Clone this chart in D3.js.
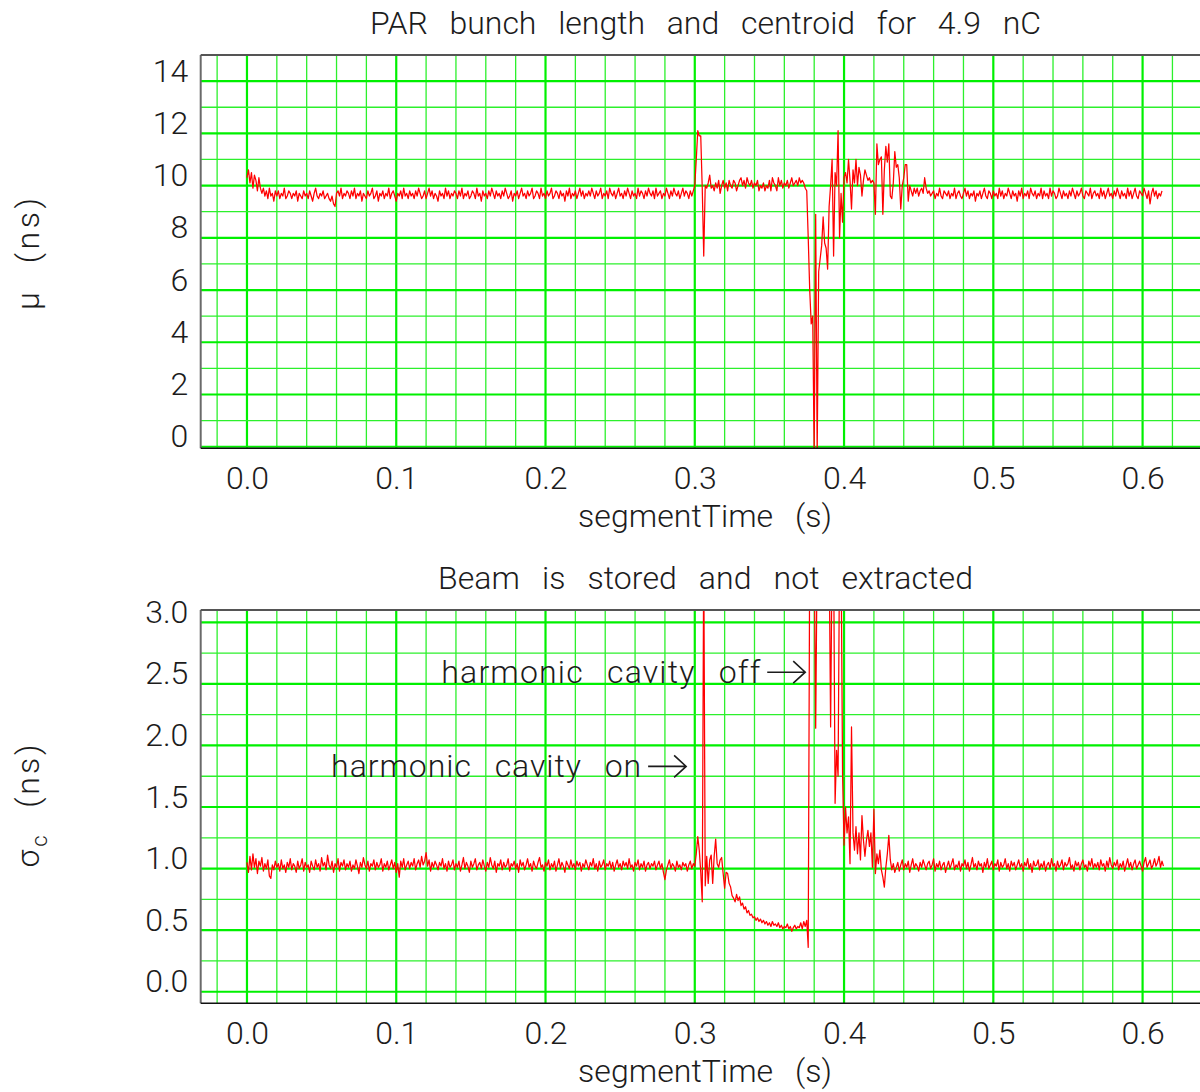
<!DOCTYPE html>
<html>
<head>
<meta charset="utf-8">
<script src="https://cdn.jsdelivr.net/npm/d3@7"></script>
<style>
  body { margin: 0; background: #fff; }
  svg text { font-family: Roboto, "Open Sans", "DejaVu Sans", sans-serif; font-weight: 300; font-size: 32px; fill: #1c1c1c; }
  svg text.spaced { word-spacing: 14px; }
</style>
</head>
<body>
<svg id="chart" width="1200" height="1092"></svg>
<script>
// Sampling interval of both traces (seconds)
const sampleStep = 0.001;

// Tick labels
const timeTicks = [0.0, 0.1, 0.2, 0.3, 0.4, 0.5, 0.6];
const muTicks = [0, 2, 4, 6, 8, 10, 12, 14];
const sigmaTicks = [0.0, 0.5, 1.0, 1.5, 2.0, 2.5, 3.0];

// Bunch centroid mu (ns), one value per millisecond from t = 0
const muValues = [
  10.3,10.6,10.1,10.5,9.9,10.4,10.2,9.8,10.3,9.9,
  9.7,9.9,9.6,9.8,9.5,9.9,9.6,9.7,9.4,9.8,
  9.6,9.8,9.5,9.7,9.6,9.9,9.5,9.6,9.8,9.7,
  9.5,9.7,9.6,9.8,9.4,9.7,9.6,9.5,9.8,9.6,
  9.7,9.5,9.8,9.6,9.4,9.7,9.9,9.6,9.5,9.7,
  9.6,9.8,9.5,9.6,9.7,9.5,9.4,9.6,9.3,9.2,
  9.7,9.8,9.6,9.9,9.5,9.7,9.6,9.8,9.7,9.5,
  9.8,9.6,9.9,9.5,9.7,9.6,9.8,9.4,9.7,9.6,
  9.5,9.8,9.6,9.7,9.9,9.5,9.6,9.8,9.4,9.7,
  9.6,9.8,9.5,9.7,9.6,9.9,9.5,9.7,9.8,9.6,
  // 0.10 s
  9.4,9.7,9.6,9.8,9.5,9.9,9.6,9.7,9.5,9.8,
  9.6,9.7,9.5,9.8,9.6,9.9,9.7,9.5,9.6,9.8,
  9.5,9.7,9.9,9.6,9.8,9.5,9.7,9.6,9.4,9.8,
  9.6,9.7,9.5,9.9,9.6,9.8,9.5,9.7,9.6,9.8,
  9.7,9.5,9.8,9.6,9.9,9.5,9.7,9.6,9.8,9.5,
  9.6,9.8,9.7,9.5,9.9,9.6,9.7,9.4,9.8,9.6,
  9.7,9.5,9.8,9.6,9.9,9.7,9.5,9.8,9.6,9.7,
  9.5,9.8,9.6,9.9,9.7,9.5,9.6,9.8,9.4,9.7,
  9.6,9.8,9.5,9.7,9.9,9.6,9.7,9.5,9.8,9.6,
  9.7,9.9,9.5,9.6,9.8,9.7,9.5,9.9,9.6,9.7,
  // 0.20 s
  9.5,9.8,9.6,9.7,9.9,9.5,9.6,9.8,9.7,9.5,
  9.8,9.6,9.7,9.4,9.8,9.6,9.9,9.5,9.7,9.6,
  9.8,9.5,9.7,9.9,9.6,9.8,9.5,9.7,9.6,9.8,
  9.6,9.9,9.7,9.5,9.8,9.6,9.7,9.9,9.5,9.7,
  9.6,9.8,9.5,9.9,9.7,9.6,9.8,9.5,9.7,9.9,
  9.6,9.7,9.5,9.8,9.6,9.9,9.7,9.5,9.8,9.6,
  9.7,9.5,9.9,9.6,9.8,9.7,9.5,9.8,9.6,9.9,
  9.7,9.6,9.8,9.5,9.9,9.6,9.7,9.8,9.5,9.7,
  9.6,9.9,9.7,9.5,9.8,9.6,9.9,9.7,9.6,9.8,
  9.5,9.7,9.9,9.6,9.8,9.7,9.5,9.8,9.6,9.8,
  // 0.30 s: harmonic cavity switched on
  10.0,11.0,12.1,11.9,11.9,9.9,7.3,10.0,9.9,10.1,
  10.4,9.9,10.0,9.8,10.1,9.9,10.2,9.7,10.0,10.2,
  9.9,10.1,9.8,10.2,10.0,9.9,10.2,10.1,9.8,10.0,
  10.2,10.3,10.0,10.2,9.9,10.3,10.1,10.0,10.2,9.9,
  10.1,10.0,10.2,9.8,10.0,9.9,10.1,9.8,10.0,9.9,
  10.2,9.8,10.3,10.1,10.0,9.8,10.3,10.0,10.2,9.9,
  10.1,10.0,10.2,9.9,10.1,10.3,10.0,10.1,10.2,10.0,
  10.3,10.1,10.2,10.1,9.9,9.8,8.0,6.0,4.7,5.0,
  -0.3,8.9,-0.3,6.7,7.2,7.7,8.8,7.8,7.6,6.8,
  9.2,10.0,11.0,7.3,10.5,10.0,12.1,8.0,9.7,8.6,
  // 0.40 s
  10.3,10.5,10.1,11.0,10.2,9.1,10.6,10.1,11.0,10.0,
  10.7,10.4,9.6,10.2,10.6,10.4,10.2,10.3,10.1,10.2,
  10.1,8.9,11.6,10.8,11.0,11.1,8.9,10.6,11.5,10.9,
  11.6,9.6,9.5,10.1,11.3,10.7,10.8,10.3,9.1,10.0,
  10.3,10.8,10.8,9.4,10.0,9.8,9.6,9.9,9.7,9.9,
  9.6,9.8,9.9,9.7,10.3,9.9,9.7,9.8,9.6,9.7,
  9.8,9.5,9.7,9.6,9.9,9.6,9.5,9.8,9.7,9.6,
  9.8,9.5,9.7,9.6,9.9,9.5,9.7,9.8,9.6,9.5,
  9.7,9.9,9.6,9.8,9.5,9.7,9.6,9.8,9.4,9.7,
  9.6,9.8,9.5,9.7,9.9,9.6,9.5,9.8,9.7,9.5,
  // 0.50 s
  9.8,9.6,9.7,9.5,9.9,9.6,9.8,9.5,9.7,9.6,
  9.9,9.7,9.5,9.8,9.6,9.7,9.4,9.8,9.6,9.9,
  9.5,9.7,9.6,9.8,9.5,9.9,9.7,9.6,9.8,9.5,
  9.7,9.6,9.9,9.5,9.8,9.6,9.7,9.5,9.9,9.6,
  9.8,9.7,9.5,9.6,9.9,9.7,9.5,9.8,9.6,9.7,
  9.5,9.8,9.6,9.9,9.7,9.5,9.8,9.6,9.7,9.9,
  9.6,9.5,9.8,9.7,9.6,9.9,9.5,9.7,9.8,9.6,
  9.7,9.5,9.9,9.6,9.8,9.5,9.7,9.9,9.6,9.7,
  9.5,9.8,9.6,9.9,9.7,9.5,9.8,9.6,9.7,9.5,
  9.9,9.6,9.8,9.5,9.7,9.9,9.6,9.5,9.8,9.7,
  // 0.60 s
  9.6,9.9,9.7,9.5,9.8,9.3,9.7,9.9,9.6,9.8,
  9.5,9.7,9.6,9.8
];

// Bunch length sigma_c (ns), one value per millisecond from t = 0
const sigmaValues = [
  1.05,0.97,1.10,0.99,1.12,1.01,1.08,0.96,1.06,1.02,
  1.09,0.98,1.04,1.00,1.07,0.94,0.92,1.03,0.99,1.06,
  1.01,1.04,0.98,1.07,1.00,1.03,0.97,1.05,1.01,1.08,
  0.99,1.04,1.02,0.97,1.06,1.00,1.03,1.08,0.98,1.05,
  1.01,1.03,0.97,1.06,1.02,0.99,1.07,1.01,1.04,0.98,
  1.09,1.02,1.05,0.99,1.11,1.03,1.00,1.06,0.97,1.04,
  1.01,1.08,0.98,1.05,1.02,1.07,0.99,1.04,1.01,1.06,
  0.98,1.03,1.00,1.07,1.02,0.96,1.05,1.01,1.09,1.03,
  1.00,1.06,0.98,1.04,1.02,1.07,0.99,1.05,1.01,1.03,
  1.08,0.98,1.04,1.01,1.06,0.99,1.03,1.07,1.00,1.05,
  // 0.10 s
  0.97,1.04,0.93,1.06,1.01,1.08,0.99,1.03,1.06,1.00,
  1.05,1.02,1.08,0.99,1.04,1.07,1.01,1.10,1.03,1.06,
  1.13,1.02,1.07,0.98,1.05,1.01,1.06,1.03,0.99,1.05,
  1.02,1.08,1.00,1.04,0.98,1.06,1.01,1.03,1.07,0.99,
  1.04,1.01,1.06,0.98,1.03,1.09,1.00,1.05,1.02,0.97,
  1.06,1.01,1.04,1.08,0.99,1.03,1.05,1.00,1.07,1.02,
  0.98,1.05,1.01,1.09,1.03,1.00,1.06,0.97,1.04,1.02,
  1.07,0.99,1.05,1.01,1.03,1.08,0.98,1.04,1.02,1.06,
  1.00,1.04,0.97,1.07,1.02,1.05,0.99,1.03,1.08,1.01,
  1.04,0.98,1.06,1.02,1.00,1.05,1.09,1.01,1.03,0.98,
  // 0.20 s
  1.05,1.02,1.07,0.99,1.04,1.01,1.06,0.98,1.03,1.08,
  1.00,1.05,1.02,0.97,1.06,1.03,1.00,1.07,1.01,1.04,
  0.99,1.06,1.02,1.05,0.98,1.04,1.01,1.07,1.03,0.99,
  1.05,1.02,1.08,1.00,1.04,0.98,1.06,1.01,1.03,1.07,
  0.99,1.04,1.02,1.06,1.00,1.05,0.98,1.03,1.07,1.01,
  1.04,0.99,1.06,1.02,1.05,1.00,1.08,1.01,1.03,0.98,
  1.05,1.02,1.07,0.99,1.04,1.01,1.06,0.98,1.03,1.05,
  1.00,1.04,1.02,1.06,0.99,1.03,1.06,1.00,1.04,0.97,
  0.91,0.99,1.03,1.07,1.00,1.04,1.02,0.98,1.06,1.01,
  1.03,0.99,1.05,1.02,1.04,0.98,1.03,1.06,1.00,1.04,
  // 0.30 s: harmonic cavity switched on
  1.02,1.12,1.26,1.15,0.97,0.73,3.6,0.86,1.10,0.88,
  1.07,1.11,0.88,1.10,1.24,1.04,1.01,1.07,1.09,0.96,
  0.84,0.97,0.96,0.88,0.85,0.78,0.76,0.73,0.79,0.74,
  0.77,0.70,0.72,0.67,0.69,0.64,0.66,0.62,0.63,0.60,
  0.61,0.58,0.60,0.57,0.59,0.56,0.58,0.55,0.57,0.54,
  0.56,0.53,0.57,0.54,0.55,0.53,0.56,0.52,0.54,0.51,
  0.53,0.52,0.55,0.51,0.53,0.49,0.52,0.54,0.51,0.53,
  0.52,0.56,0.51,0.57,0.53,0.58,0.36,3.6,3.6,3.6,
  3.6,2.14,3.6,3.6,3.6,3.6,3.6,3.6,3.6,3.6,
  3.6,2.15,3.6,3.6,1.53,1.96,1.75,3.6,3.6,1.77,
  // 0.40 s
  1.19,1.50,1.29,1.42,1.04,2.15,1.29,1.15,1.34,1.12,
  1.29,1.07,1.43,1.23,1.10,1.23,1.31,1.18,1.29,1.01,
  1.48,0.96,1.12,1.04,1.15,0.99,0.93,0.85,1.01,1.12,
  1.27,1.07,0.99,1.04,0.97,1.01,1.05,0.98,1.03,1.07,
  0.99,1.04,1.01,1.06,0.97,1.03,1.08,1.00,1.04,1.02,
  0.98,1.05,1.01,1.07,1.03,0.99,1.04,1.06,1.00,1.03,
  1.08,0.98,1.04,1.01,1.06,0.99,1.03,1.05,0.97,1.02,
  1.06,1.00,1.04,1.08,0.99,1.03,1.01,1.06,0.98,1.04,
  1.02,1.07,1.00,1.05,0.98,1.03,1.09,1.01,1.04,0.99,
  1.06,1.02,1.04,0.97,1.05,1.01,1.08,1.00,1.03,1.06,
  // 0.50 s
  0.99,1.04,1.02,1.07,0.98,1.05,1.01,1.03,1.08,1.00,
  1.04,0.98,1.06,1.02,1.05,0.99,1.03,1.07,1.01,1.04,
  0.98,1.05,1.02,1.08,1.00,1.04,0.97,1.06,1.02,1.03,
  1.07,0.99,1.04,1.01,1.06,0.98,1.03,1.05,1.00,1.08,
  1.02,1.04,0.98,1.06,1.01,1.03,1.07,0.99,1.05,1.02,
  1.04,1.09,1.00,1.03,0.98,1.06,1.02,1.05,0.99,1.04,
  1.07,1.01,1.03,0.98,1.06,1.02,1.08,1.00,1.04,1.01,
  1.05,0.99,1.07,1.02,1.04,0.98,1.06,1.01,1.09,1.03,
  1.00,1.05,1.02,1.07,0.99,1.04,1.01,1.06,0.98,1.03,
  1.08,1.01,1.05,0.99,1.04,1.07,1.00,1.03,1.06,1.02,
  // 0.60 s
  0.98,1.05,1.09,1.01,1.04,1.07,1.00,1.03,1.08,1.02,
  1.05,1.10,1.01,1.06,1.02
];

const svg = d3.select("#chart");

// Shared time axis
const x = d3.scaleLinear().domain([-0.031, 0.639]).range([200.7, 1200.8]);
const plotLeft = x.range()[0], plotRight = 1200;

// Vertical grid: every 20 ms, heavier every 100 ms
const timeGrid = d3.range(-1, 32).map(k => +(k * 0.02).toFixed(2));
const isMajorTime = t => Math.abs(t * 10 - Math.round(t * 10)) < 1e-6;

const panels = [
  {
    id: "mu",
    values: muValues,
    y: d3.scaleLinear().domain([-0.06, 15.0]).range([448.3, 55]),
    ticks: muTicks,
    fmt: d3.format("d"),
    grid: d3.range(0, 15, 1),
    majorEvery: 2,
    title: "PAR bunch length and centroid for 4.9 nC",
    titleY: 34, titleLen: 671,
    yLabelCenter: 254, yLabelLen: 112
  },
  {
    id: "sigma",
    values: sigmaValues,
    y: d3.scaleLinear().domain([-0.094, 3.1]).range([1003.3, 610]),
    ticks: sigmaTicks,
    fmt: d3.format(".1f"),
    grid: d3.range(0, 13, 1).map(k => k * 0.25),
    majorEvery: 0.5,
    title: "Beam is stored and not extracted",
    titleY: 589, titleLen: 535,
    yLabelCenter: 806, yLabelLen: 123
  }
];

panels.forEach(p => {
  const y = p.y;
  const [bottom, top] = y.range();
  const g = svg.append("g").attr("class", "panel-" + p.id);

  g.append("clipPath").attr("id", "clip-" + p.id)
    .append("rect")
    .attr("x", plotLeft).attr("y", top)
    .attr("width", plotRight - plotLeft).attr("height", bottom - top);

  // Grid lines
  const grid = g.append("g");
  const isMajorY = v => Math.abs(v / p.majorEvery - Math.round(v / p.majorEvery)) < 1e-6;

  grid.selectAll("line.vgrid")
    .data(timeGrid.filter(t => x(t) > plotLeft && x(t) < plotRight))
    .join("line")
    .attr("class", "vgrid")
    .attr("x1", d => x(d)).attr("x2", d => x(d))
    .attr("y1", top).attr("y2", bottom)
    .attr("stroke", d => isMajorTime(d) ? "#00f000" : "#2cf02c")
    .attr("stroke-width", d => isMajorTime(d) ? 2.2 : 1.3);

  grid.selectAll("line.hgrid")
    .data(p.grid)
    .join("line")
    .attr("class", "hgrid")
    .attr("x1", plotLeft).attr("x2", plotRight)
    .attr("y1", d => y(d)).attr("y2", d => y(d))
    .attr("stroke", d => isMajorY(d) ? "#00f000" : "#2cf02c")
    .attr("stroke-width", d => isMajorY(d) ? 2.2 : 1.3);

  // Trace
  const line = d3.line()
    .x((d, i) => x(i * sampleStep))
    .y(d => y(d));

  g.append("path")
    .datum(p.values)
    .attr("clip-path", `url(#clip-${p.id})`)
    .attr("fill", "none")
    .attr("stroke", "#ff0000")
    .attr("stroke-width", 1.25)
    .attr("stroke-linejoin", "round")
    .attr("d", line);

  // Frame
  g.append("line")
    .attr("x1", plotLeft).attr("x2", plotLeft).attr("y1", top).attr("y2", bottom)
    .attr("stroke", "#6a6a6a").attr("stroke-width", 2);
  g.append("line")
    .attr("x1", plotLeft).attr("x2", plotRight).attr("y1", top).attr("y2", top)
    .attr("stroke", "#555").attr("stroke-width", 2);
  g.append("line")
    .attr("x1", plotLeft).attr("x2", plotRight).attr("y1", bottom).attr("y2", bottom)
    .attr("stroke", "#111").attr("stroke-width", 1.6);

  // Time axis labels
  const xAxis = d3.axisBottom(x).tickValues(timeTicks).tickSize(0).tickPadding(0).tickFormat(d3.format(".1f"));
  const xg = g.append("g").attr("transform", `translate(0,${bottom})`).call(xAxis);
  xg.select(".domain").remove();
  xg.selectAll("text").attr("y", 40.7).attr("dy", null);

  // Value axis labels, baseline on the grid line
  const yAxis = d3.axisLeft(y).tickValues(p.ticks).tickSize(0).tickPadding(12.4).tickFormat(p.fmt);
  const yg = g.append("g").attr("transform", `translate(${plotLeft},0)`).call(yAxis);
  yg.select(".domain").remove();
  yg.selectAll("text").attr("dy", null);

  // Titles
  g.append("text")
    .attr("class", "spaced")
    .attr("x", 705.5).attr("y", p.titleY)
    .attr("text-anchor", "middle")
    .attr("textLength", p.titleLen).attr("lengthAdjust", "spacing")
    .text(p.title);

  g.append("text")
    .attr("class", "spaced")
    .attr("x", 705).attr("y", bottom + 78.7)
    .attr("text-anchor", "middle")
    .attr("textLength", 254).attr("lengthAdjust", "spacing")
    .text("segmentTime (s)");

  const yl = g.append("text")
    .attr("class", "spaced")
    .attr("transform", `translate(39,${p.yLabelCenter}) rotate(-90)`)
    .attr("text-anchor", "middle")
    .attr("textLength", p.yLabelLen).attr("lengthAdjust", "spacing");
  if (p.id === "mu") {
    yl.text("\u03bc (ns)");
  } else {
    yl.append("tspan").text("\u03c3");
    yl.append("tspan").attr("dy", 8).style("font-size", "22px").text("c");
    yl.append("tspan").attr("dy", -8).text(" (ns)");
  }
});

// Annotations on the bunch-length panel, arrow tip given in data units
const sigmaY = panels[1].y;
const notes = [
  { text: "harmonic cavity off", t: 0.374, v: 2.595, len: 319 },
  { text: "harmonic cavity on",  t: 0.2942, v: 1.83, len: 310 }
];
const noteG = svg.append("g").attr("class", "notes");
notes.forEach(n => {
  const tipX = x(n.t), tipY = sigmaY(n.v);
  const tailX = tipX - 38;
  noteG.append("path")
    .attr("d", `M${tailX},${tipY}H${tipX}M${tipX - 12},${tipY - 11}L${tipX},${tipY}L${tipX - 12},${tipY + 11}`)
    .attr("fill", "none").attr("stroke", "#1c1c1c").attr("stroke-width", 1.6);
  noteG.append("text")
    .attr("class", "spaced")
    .attr("x", tailX - 7).attr("y", tipY + 11)
    .attr("text-anchor", "end")
    .attr("textLength", n.len).attr("lengthAdjust", "spacing")
    .text(n.text);
});
</script>
</body>
</html>
